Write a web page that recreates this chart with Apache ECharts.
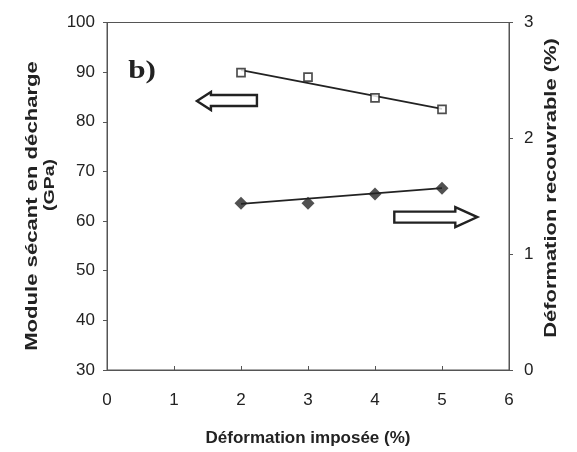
<!DOCTYPE html>
<html>
<head>
<meta charset="utf-8">
<script src="https://cdn.jsdelivr.net/npm/echarts@6/dist/echarts.min.js"></script>
<style>
html,body{margin:0;padding:0;background:#fff;}
#chart{width:577px;height:452px;}
</style>
</head>
<body>
<div id="chart"></div>
<script>
// ---- data ----
const xValues = [2, 3, 4, 5];
const moduleValues = [89.9, 89.0, 84.8, 82.5];      // left axis, open squares (GPa)
const recovValues = [1.44, 1.44, 1.52, 1.57];       // right axis, filled diamonds (%)
const trendX = [2, 5];
const moduleTrendY = [90.4, 82.6];
const recovTrendY = [1.435, 1.57];
const xTicks = [0, 1, 2, 3, 4, 5, 6];
const leftTicks = [30, 40, 50, 60, 70, 80, 90, 100];
const rightTicks = [0, 1, 2, 3];
// annotation arrows (centre in data coordinates)
const leftArrowAt = [1.79, 84.2];     // on left axis
const rightArrowAt = [4.9, 1.32];     // on right axis
const texts = {
  xTitle: 'Déformation imposée (%)',
  yLeft1: 'Module sécant en décharge',
  yLeft2: '(GPa)',
  yRight: 'Déformation recouvrable (%)',
  tag: 'b)'
};

const pairs = (xs, ys) => xs.map((x, i) => [x, ys[i]]);

const axisColor = '#555';
const textColor = '#222';
const labelFont = {fontFamily: 'Liberation Sans', fontSize: 17, color: textColor};

const chart = echarts.init(document.getElementById('chart'), null, {renderer: 'canvas'});
chart.setOption({
  animation: false,
  backgroundColor: '#fff',
  grid: {left: 107, right: 68, top: 22.5, bottom: 79.5, show: true,
         borderColor: axisColor, borderWidth: 1, backgroundColor: 'transparent'},
  xAxis: {
    type: 'value', min: xTicks[0], max: xTicks[xTicks.length - 1], interval: 1,
    axisLine: {show: true, lineStyle: {color: axisColor, width: 1}},
    axisTick: {show: true, inside: true, length: 4, lineStyle: {color: axisColor}},
    axisLabel: Object.assign({margin: 22}, labelFont),
    splitLine: {show: false},
    name: texts.xTitle, nameLocation: 'middle', nameGap: 60,
    nameTextStyle: {fontFamily: 'Liberation Sans', fontWeight: 'bold', fontSize: 17, color: textColor}
  },
  yAxis: [
    {
      type: 'value', min: leftTicks[0], max: leftTicks[leftTicks.length - 1], interval: 10,
      axisLine: {show: true, lineStyle: {color: axisColor, width: 1}},
      axisTick: {show: true, length: 4, lineStyle: {color: axisColor}},
      axisLabel: Object.assign({margin: 12}, labelFont),
      splitLine: {show: false}
    },
    {
      type: 'value', min: rightTicks[0], max: rightTicks[rightTicks.length - 1], interval: 1,
      position: 'right',
      axisLine: {show: true, lineStyle: {color: axisColor, width: 1}},
      axisTick: {show: true, length: 4, lineStyle: {color: axisColor}},
      axisLabel: Object.assign({margin: 15}, labelFont),
      splitLine: {show: false}
    }
  ],
  series: [
    {
      type: 'line', yAxisIndex: 0, data: pairs(trendX, moduleTrendY),
      symbol: 'none', lineStyle: {color: '#222', width: 1.6}, z: 2
    },
    {
      type: 'scatter', yAxisIndex: 0, data: pairs(xValues, moduleValues),
      symbol: 'rect', symbolSize: 8, z: 3,
      itemStyle: {color: '#fff', borderColor: '#222', borderWidth: 1.7}
    },
    {
      type: 'line', yAxisIndex: 1, data: pairs(trendX, recovTrendY),
      symbol: 'none', lineStyle: {color: '#222', width: 1.8}, z: 2
    },
    {
      type: 'scatter', yAxisIndex: 1, data: pairs(xValues, recovValues),
      symbol: 'diamond', symbolSize: [13, 13], z: 3,
      itemStyle: {color: '#262626'}
    }
  ]
});

// annotations: arrows, panel tag, stretched axis titles
const lp = chart.convertToPixel({xAxisIndex: 0, yAxisIndex: 0}, leftArrowAt);
const rp = chart.convertToPixel({xAxisIndex: 0, yAxisIndex: 1}, rightArrowAt);
const arrowStyle = {fill: '#fff', stroke: '#222', lineWidth: 2.4};
const titleStyle = (t, size) => ({text: t, fontFamily: 'Liberation Sans', fontWeight: 'bold',
  fontSize: size, fill: textColor, align: 'center', verticalAlign: 'middle'});

chart.setOption({
  graphic: [
    { // left-pointing arrow, 60 x 18
      type: 'polygon', x: lp[0], y: lp[1], z: 10,
      shape: {points: [[-30, 0], [-16, -9], [-16, -6], [30, -6], [30, 5], [-16, 5], [-16, 9]]},
      style: arrowStyle
    },
    { // right-pointing arrow, 83 x 20
      type: 'polygon', x: rp[0], y: rp[1], z: 10,
      shape: {points: [[-41, -5.5], [20, -5.5], [20, -10], [42, 0], [20, 10], [20, 5.5], [-41, 5.5]]},
      style: arrowStyle
    },
    {
      type: 'text', x: 142, y: 71, scaleX: 1.2, z: 10,
      style: {text: texts.tag, fontFamily: 'Liberation Serif', fontWeight: 'bold', fontSize: 26,
              fill: textColor, align: 'center', verticalAlign: 'middle'}
    },
    {
      type: 'text', x: 33, y: 206, rotation: Math.PI / 2, scaleX: 1.38, z: 10,
      style: titleStyle(texts.yLeft1, 16)
    },
    {
      type: 'text', x: 50, y: 185, rotation: Math.PI / 2, scaleX: 1.3, z: 10,
      style: titleStyle(texts.yLeft2, 15)
    },
    {
      type: 'text', x: 552, y: 188, rotation: Math.PI / 2, scaleX: 1.37, z: 10,
      style: titleStyle(texts.yRight, 16)
    }
  ]
});
</script>
</body>
</html>
